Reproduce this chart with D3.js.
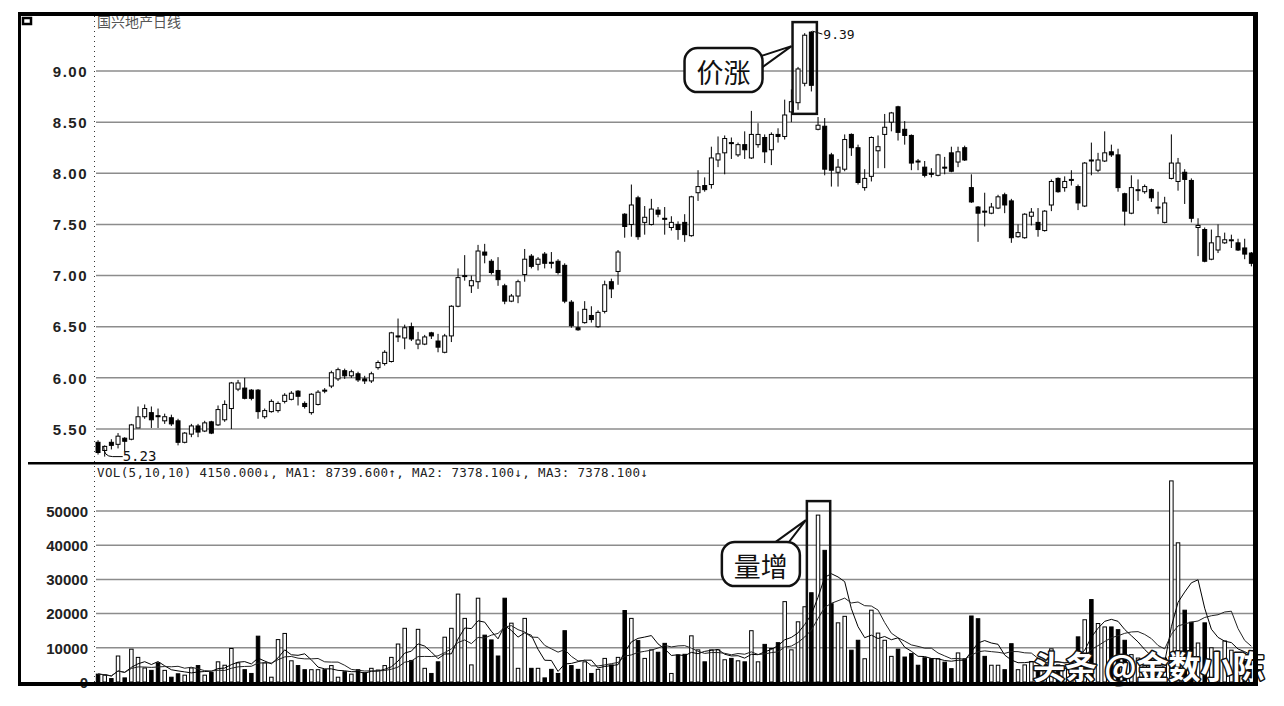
<!DOCTYPE html>
<html><head><meta charset="utf-8">
<script src="https://cdn.jsdelivr.net/npm/d3@7"></script>
<style>html,body{margin:0;padding:0;background:#fff;}svg{display:block}</style>
</head><body>
<svg id="c" width="1284" height="706"></svg>
<script>
const title = "国兴地产日线";
const openP = [
5.37,5.29,5.37,5.35,5.41,5.40,5.51,5.62,5.66,5.63,
5.58,5.61,5.58,5.37,5.45,5.53,5.48,5.57,5.54,5.59,
5.70,5.89,5.90,5.88,5.88,5.62,5.67,5.68,5.77,5.79,
5.87,5.75,5.66,5.74,5.88,5.92,5.99,6.07,6.02,6.04,
5.99,5.97,6.10,6.14,6.16,6.40,6.39,6.50,6.33,6.33,
6.44,6.36,6.25,6.41,6.70,6.99,6.90,6.94,7.23,7.14,
7.05,6.90,6.75,6.80,7.01,7.19,7.11,7.21,7.13,7.14,
7.10,6.74,6.49,6.54,6.61,6.50,6.65,6.94,7.04,7.60,
7.50,7.76,7.52,7.50,7.64,7.56,7.47,7.50,7.52,7.39,
7.81,7.88,7.89,8.13,8.20,8.30,8.18,8.28,8.15,8.28,
8.35,8.23,8.38,8.36,8.60,8.69,8.88,9.38,8.43,8.46,
8.18,8.01,8.04,8.38,8.25,7.86,7.97,8.22,8.38,8.50,
8.65,8.43,8.37,8.12,8.06,8.00,7.98,8.06,8.20,8.11,
8.25,7.86,7.67,7.63,7.61,7.66,7.79,7.73,7.38,7.37,
7.58,7.52,7.44,7.69,7.95,7.86,7.93,7.87,7.68,8.13,
8.03,8.12,8.21,8.18,7.80,7.61,7.83,7.82,7.84,7.67,
7.52,7.95,7.92,8.01,7.93,7.47,7.45,7.16,7.25,7.32,
7.34,7.32,7.27,7.22];
const highP = [
5.39,5.34,5.40,5.46,5.42,5.55,5.72,5.74,5.72,5.70,
5.65,5.64,5.60,5.47,5.55,5.55,5.58,5.58,5.73,5.78,
5.96,5.98,6.00,5.89,5.89,5.70,5.79,5.77,5.85,5.87,
5.88,5.77,5.85,5.88,5.90,6.07,6.10,6.09,6.08,6.06,
6.02,6.06,6.17,6.27,6.45,6.58,6.52,6.54,6.45,6.42,
6.45,6.43,6.43,6.71,7.07,7.20,7.00,7.30,7.31,7.16,
7.18,6.92,6.82,6.96,7.26,7.21,7.18,7.23,7.23,7.16,
7.12,6.76,6.65,6.75,6.70,6.66,6.95,6.97,7.25,7.61,
7.89,7.78,7.68,7.75,7.67,7.67,7.58,7.53,7.60,7.78,
8.03,7.96,8.26,8.36,8.37,8.35,8.30,8.41,8.61,8.49,
8.38,8.40,8.44,8.72,8.82,9.04,9.37,9.39,8.55,8.54,
8.20,8.14,8.38,8.39,8.28,8.04,8.36,8.37,8.58,8.60,
8.66,8.51,8.38,8.14,8.12,8.05,8.19,8.16,8.26,8.26,
8.27,7.99,7.68,7.81,7.71,7.79,7.81,7.75,7.50,7.61,
7.66,7.66,7.64,7.94,7.96,7.97,8.03,7.89,8.11,8.30,
8.20,8.41,8.28,8.24,7.81,7.98,7.94,7.89,7.85,7.82,
7.77,8.38,8.15,8.04,7.95,7.56,7.47,7.45,7.50,7.42,
7.40,7.36,7.36,7.23];
const lowP = [
5.25,5.23,5.30,5.31,5.28,5.39,5.51,5.60,5.51,5.51,
5.55,5.53,5.34,5.36,5.42,5.42,5.47,5.45,5.53,5.57,
5.50,5.87,5.79,5.78,5.60,5.60,5.66,5.66,5.75,5.78,
5.73,5.70,5.64,5.73,5.85,5.90,5.97,5.99,6.00,5.96,
5.94,5.95,6.08,6.12,6.15,6.35,6.28,6.36,6.28,6.32,
6.38,6.25,6.24,6.35,6.69,6.95,6.83,6.87,7.12,7.01,
6.90,6.72,6.74,6.73,6.94,7.07,7.05,7.07,7.07,7.01,
6.73,6.49,6.46,6.53,6.54,6.49,6.63,6.78,6.91,7.37,
7.38,7.35,7.40,7.49,7.57,7.40,7.44,7.35,7.33,7.38,
7.73,7.82,7.85,8.06,7.99,8.14,8.16,8.14,8.14,8.25,
8.10,8.08,8.30,8.33,8.50,8.62,8.85,8.80,8.42,7.98,
7.87,7.87,8.02,8.17,7.89,7.83,7.92,8.05,8.05,8.41,
8.32,8.28,8.03,8.03,7.96,7.96,7.97,7.99,8.01,8.06,
8.12,7.71,7.33,7.48,7.60,7.65,7.61,7.32,7.37,7.36,
7.49,7.38,7.43,7.63,7.81,7.82,7.88,7.64,7.67,7.98,
8.01,8.11,8.16,7.82,7.49,7.60,7.73,7.80,7.72,7.60,
7.51,7.94,7.83,7.70,7.52,7.19,7.13,7.15,7.22,7.31,
7.27,7.24,7.16,7.09];
const closeP = [
5.27,5.33,5.34,5.43,5.38,5.54,5.62,5.70,5.59,5.62,
5.62,5.55,5.37,5.46,5.53,5.47,5.56,5.46,5.69,5.74,
5.95,5.95,5.80,5.80,5.67,5.68,5.77,5.75,5.83,5.85,
5.82,5.72,5.84,5.86,5.87,6.05,6.08,6.02,6.06,5.98,
5.97,6.04,6.15,6.25,6.44,6.41,6.49,6.38,6.37,6.40,
6.41,6.30,6.41,6.70,6.98,7.00,6.95,7.24,7.20,7.03,
6.96,6.75,6.80,6.94,7.16,7.09,7.16,7.12,7.12,7.03,
6.75,6.51,6.47,6.67,6.57,6.64,6.91,6.87,7.23,7.48,
7.69,7.38,7.57,7.65,7.60,7.55,7.52,7.45,7.40,7.77,
7.87,7.84,8.15,8.19,8.34,8.29,8.28,8.23,8.38,8.38,
8.21,8.38,8.36,8.57,8.70,9.02,9.35,8.86,8.47,8.04,
8.03,8.06,8.33,8.25,7.91,7.95,8.35,8.26,8.45,8.59,
8.40,8.37,8.10,8.11,7.98,7.99,8.18,8.05,8.02,8.21,
8.13,7.72,7.61,7.62,7.67,7.77,7.69,7.37,7.42,7.60,
7.62,7.45,7.63,7.92,7.82,7.92,7.94,7.71,8.10,8.12,
8.13,8.20,8.18,7.86,7.63,7.86,7.84,7.87,7.76,7.66,
7.71,8.10,8.10,7.94,7.56,7.49,7.14,7.32,7.38,7.35,
7.35,7.25,7.21,7.12];
const volume = [
2300,2000,1000,7600,1200,9600,7200,4100,3400,5600,
3400,1400,2400,2000,4100,4800,2000,2800,5900,4900,
9800,5600,3600,2500,13400,5600,1400,12400,14200,6200,
4800,3600,3600,3600,3600,4800,1400,3000,2300,3600,
2700,4000,3500,4800,7200,11100,15700,6300,15400,4000,
2500,5900,13100,15700,25700,18600,5000,24500,13700,12300,
7600,24500,17200,4000,18600,4000,4000,1200,3700,2500,
15000,4800,3700,5900,2500,3700,6900,5000,7200,20900,
18600,12100,6900,9400,8700,11300,2500,7900,8100,13500,
9400,5900,9400,9400,6500,6900,6200,5900,15000,5900,
11000,9800,11500,23500,9400,17600,22000,26100,48800,38500,
22900,17300,19200,9300,12200,6800,21000,14300,12200,7500,
9600,7300,8300,4900,7100,6800,6800,5800,3900,8500,
6800,19300,18500,7500,4900,4900,3600,11200,3600,5000,
6000,4000,5000,9700,5000,4000,6000,13200,18200,24100,
17100,16100,16100,15300,12200,8000,7000,5000,6000,4000,
7000,58800,40700,21000,17500,11400,17300,10000,9000,12000,
9300,8000,6000,4150];
const priceTicks = [5.5,6.0,6.5,7.0,7.5,8.0,8.5,9.0];
const volTicks = [0,10000,20000,30000,40000,50000];
const maPeriods = [5,10];
const volHeader = "VOL(5,10,10) 4150.000\u2193, MA1: 8739.600\u2191, MA2: 7378.100\u2193, MA3: 7378.100\u2193";
const noteUp = "价涨", noteVol = "量增";
const priceBox = [105,107], volBox = [107,109];
const watermark = "头条 @金数小陈";

const n = openP.length;
const svg = d3.select("#c");
const W=1284,H=706;
const L=18,R=1258,T=12,B=686;
const pTop=16,pBot=462,vTop=465,vBot=682,gx0=96,gx1=1253;

const x = d3.scaleBand().domain(d3.range(n)).range([94.7,1254.7]);
const cx = i => x(i)+x.bandwidth()/2;
const yP = d3.scaleLinear().domain([5.5,9.0]).range([429,71]);
const yV = d3.scaleLinear().domain([0,50000]).range([vBot,511]);

const defs = svg.append("defs");
defs.append("clipPath").attr("id","cp").append("rect").attr("x",gx0-2).attr("y",pTop).attr("width",gx1-gx0+2).attr("height",pBot-pTop);
defs.append("clipPath").attr("id","cv").append("rect").attr("x",gx0-2).attr("y",vTop).attr("width",gx1-gx0+2).attr("height",vBot-vTop);

svg.append("rect").attr("width",W).attr("height",H).attr("fill","#fff");

// grid
const grid = svg.append("g").attr("stroke","#8c8c8c").attr("stroke-width",1.5);
grid.selectAll("line.p").data(priceTicks).join("line").attr("class","p")
  .attr("x1",gx0).attr("x2",gx1).attr("y1",d=>yP(d)).attr("y2",d=>yP(d));
grid.selectAll("line.v").data(volTicks.filter(d=>d>0)).join("line").attr("class","v")
  .attr("x1",gx0).attr("x2",gx1).attr("y1",d=>yV(d)).attr("y2",d=>yV(d));

// axes labels
const axP = d3.axisLeft(yP).tickValues(priceTicks).tickFormat(d3.format(".2f")).tickSize(0).tickPadding(6);
const gP = svg.append("g").attr("transform","translate(94,0)").call(axP);
gP.select(".domain").remove();
gP.selectAll("text").attr("font-family","Liberation Sans, Arial, sans-serif").attr("font-size",15).attr("font-weight","bold")
  .attr("fill","#222").attr("letter-spacing","1.5px").attr("dy","0.35em");
const axV = d3.axisLeft(yV).tickValues(volTicks).tickFormat(d3.format("d")).tickSize(0).tickPadding(6);
const gV = svg.append("g").attr("transform","translate(94,0)").call(axV);
gV.select(".domain").remove();
gV.selectAll("text").attr("font-family","Liberation Sans, Arial, sans-serif").attr("font-size",15).attr("font-weight","bold")
  .attr("fill","#222").attr("dy","0.35em");

// dotted axis line
svg.append("line").attr("x1",94.5).attr("x2",94.5).attr("y1",pTop).attr("y2",vBot)
  .attr("stroke","#333").attr("stroke-width",1).attr("stroke-dasharray","1,4");

// candles
const data = d3.range(n).map(i=>({i,o:openP[i],h:highP[i],l:lowP[i],c:closeP[i],v:volume[i]}));
const gc = svg.append("g").attr("clip-path","url(#cp)");
gc.selectAll("line.w").data(data).join("line").attr("class","w")
  .attr("x1",d=>cx(d.i)).attr("x2",d=>cx(d.i))
  .attr("y1",d=>yP(Math.max(d.h,d.o,d.c))).attr("y2",d=>yP(Math.min(d.l,d.o,d.c)))
  .attr("stroke","#000").attr("stroke-width",1);
gc.selectAll("rect.b").data(data).join("rect").attr("class","b")
  .attr("x",d=>cx(d.i)-2).attr("width",4)
  .attr("y",d=>yP(Math.max(d.o,d.c)))
  .attr("height",d=>Math.max(1,Math.abs(yP(d.o)-yP(d.c))))
  .attr("fill",d=>d.c>=d.o?"#fff":"#000").attr("stroke","#000").attr("stroke-width",1);

// volume
const gv = svg.append("g").attr("clip-path","url(#cv)");
gv.selectAll("rect.vb").data(data).join("rect").attr("class","vb")
  .attr("x",d=>cx(d.i)-1.75).attr("width",3.5)
  .attr("y",d=>yV(d.v)).attr("height",d=>vBot-yV(d.v))
  .attr("fill",d=>d.c>=d.o?"#fff":"#000").attr("stroke","#000").attr("stroke-width",1);
maPeriods.forEach((p,k)=>{
  const ma = data.map((d,i)=>d3.mean(volume.slice(Math.max(0,i-p+1),i+1)));
  gv.append("path").datum(ma).attr("fill","none").attr("stroke",k?"#222":"#000").attr("stroke-width",1)
    .attr("d",d3.line().x((d,i)=>cx(i)).y(d=>yV(d)));
});

// header texts
svg.append("text").attr("x",97).attr("y",27).attr("font-family","Noto Sans CJK SC, sans-serif").attr("font-size",14)
  .attr("fill","#555").text(title);
svg.append("text").attr("x",97).attr("y",477).attr("font-family","DejaVu Sans Mono, monospace").attr("font-size",12.5)
  .attr("fill","#222").attr("textLength",551).attr("lengthAdjust","spacing").text(volHeader);

// max / min labels
const iMax = d3.maxIndex(highP), iMin = d3.minIndex(lowP);
const mono = "DejaVu Sans Mono, monospace";
svg.append("path").attr("fill","none").attr("stroke","#000").attr("stroke-width",1)
  .attr("d",`M${cx(iMax)+1},${yP(highP[iMax])} L${cx(iMax)+11},${yP(highP[iMax])+3}`);
svg.append("text").attr("x",cx(iMax)+12).attr("y",yP(highP[iMax])+8).attr("font-family",mono).attr("font-size",13)
  .attr("fill","#111").text(d3.format(".2f")(highP[iMax]));
svg.append("path").attr("fill","none").attr("stroke","#000").attr("stroke-width",1)
  .attr("d",`M${cx(iMin)-1},${yP(lowP[iMin])-10} Q${cx(iMin)-1},${yP(lowP[iMin])} ${cx(iMin)+8},${yP(lowP[iMin])} L${cx(iMin)+18},${yP(lowP[iMin])}`);
svg.append("text").attr("x",cx(iMin)+18).attr("y",yP(lowP[iMin])+4).attr("font-family",mono).attr("font-size",14)
  .attr("fill","#111").text(d3.format(".2f")(lowP[iMin]));

// annotations
const cjk = "Noto Sans CJK SC, sans-serif";
function callout(bx0,by0,bx1,by1,label,bubR,bubT,tail){
  svg.append("rect").attr("x",bx0).attr("y",by0).attr("width",bx1-bx0).attr("height",by1-by0)
    .attr("fill","none").attr("stroke","#111").attr("stroke-width",2.5);
  const bw=78,bh=44;
  svg.append("path").attr("d",`M${tail[0][0]},${tail[0][1]} L${tail[1][0]},${tail[1][1]} L${tail[2][0]},${tail[2][1]} Z`)
    .attr("fill","#fff").attr("stroke","#111").attr("stroke-width",2);
  svg.append("rect").attr("x",bubR-bw).attr("y",bubT).attr("width",bw).attr("height",bh).attr("rx",13)
    .attr("fill","#fff").attr("stroke","#111").attr("stroke-width",2.5);
  svg.append("text").attr("x",bubR-bw/2).attr("y",bubT+bh/2+1).attr("text-anchor","middle").attr("dominant-baseline","central")
    .attr("font-family",cjk).attr("font-size",27).attr("fill","#111").text(label);
}
{
  const idx=d3.range(priceBox[0],priceBox[1]+1);
  const bx0=cx(priceBox[0])-5.5, bx1=cx(priceBox[1])+5.5;
  const by0=yP(d3.max(idx,i=>highP[i]))-9, by1=yP(d3.min(idx,i=>lowP[i]))+4;
  const bubR=bx0-30, bubT=by0+26;
  callout(bx0,by0,bx1,by1,noteUp,bubR,bubT,[[bubR-8,bubT+10],[bx0-1,by0+24],[bubR-4,bubT+22]]);
}
{
  const idx=d3.range(volBox[0],volBox[1]+1);
  const bx0=cx(volBox[0])-4.5, bx1=cx(volBox[1])+5.5;
  const by0=yV(d3.max(idx,i=>volume[i]))-14, by1=vBot+1;
  const bubR=bx0-7, bubT=by0+41;
  callout(bx0,by0,bx1,by1,noteVol,bubR,bubT,[[bubR-30,bubT+4],[bx0-1,by0+19],[bubR-14,bubT+4]]);
}

// watermark
svg.append("text").attr("x",1033).attr("y",679).attr("font-family",cjk).attr("font-size",32).attr("font-weight","bold")
  .attr("fill","#fff").attr("stroke","#111").attr("stroke-width",3).attr("paint-order","stroke").attr("stroke-linejoin","round")
  .text(watermark);

// frame
const fr = svg.append("g").attr("fill","#000");
fr.append("rect").attr("x",L).attr("y",T).attr("width",R-L).attr("height",4);
fr.append("rect").attr("x",L).attr("y",T).attr("width",3).attr("height",B-T);
fr.append("rect").attr("x",1253).attr("y",T).attr("width",R-1253).attr("height",B-T);
fr.append("rect").attr("x",L).attr("y",vBot).attr("width",R-L).attr("height",B-vBot);
fr.append("rect").attr("x",28).attr("y",pBot).attr("width",1253-28).attr("height",2.5);
svg.append("rect").attr("x",23).attr("y",18).attr("width",8).attr("height",6).attr("fill","#fff").attr("stroke","#000").attr("stroke-width",2.5);
</script>
</body></html>
